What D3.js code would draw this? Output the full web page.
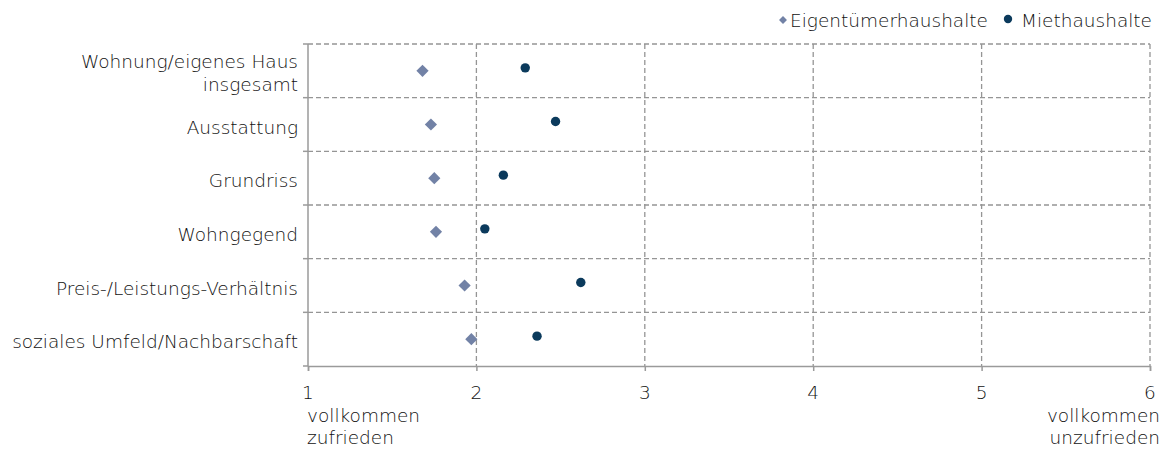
<!DOCTYPE html>
<html>
<head>
<meta charset="utf-8">
<script src="https://cdn.jsdelivr.net/npm/d3@7"></script>
<style>
  body { margin: 0; background: #fff; }
  text { font-family: "DejaVu Sans", sans-serif; fill: #111; font-size: 18.5px; font-weight: 200; }
  .grid line { stroke: #959595; stroke-width: 1.3; stroke-dasharray: 5,3; }
  .axis path, .axis line { stroke: #9a9a9a; stroke-width: 1.5; }
</style>
</head>
<body>
<div id="chart"></div>
<script>
var categories = [
  ["Wohnung/eigenes Haus", "insgesamt"],
  ["Ausstattung"],
  ["Grundriss"],
  ["Wohngegend"],
  ["Preis-/Leistungs-Verhältnis"],
  ["soziales Umfeld/Nachbarschaft"]
];
var eigentuemer = [1.68, 1.73, 1.75, 1.76, 1.93, 1.97];
var mieter = [2.29, 2.47, 2.16, 2.05, 2.62, 2.36];
var xTicks = [1, 2, 3, 4, 5, 6];
var seriesNames = ["Eigentümerhaushalte", "Miethaushalte"];

var W = 1166, H = 450;
var margin = {top: 44, right: 16, bottom: 84, left: 308};
var width = W - margin.left - margin.right,
    height = H - margin.top - margin.bottom;

var svg = d3.select("#chart").append("svg")
    .attr("width", W).attr("height", H)
  .append("g")
    .attr("transform", "translate(" + margin.left + "," + margin.top + ")");

var x = d3.scaleLinear().domain([1, 6]).range([0, width]);
var y = d3.scaleBand().domain(d3.range(categories.length)).range([0, height]);

// horizontal dashed row separators (incl. top)
svg.append("g").attr("class", "grid")
  .selectAll("line")
  .data(d3.range(categories.length))
  .enter().append("line")
  .attr("x1", 0).attr("x2", width)
  .attr("y1", function(d) { return y(d); })
  .attr("y2", function(d) { return y(d); });

// vertical dashed gridlines
svg.append("g").attr("class", "grid")
  .selectAll("line")
  .data(xTicks.slice(1))
  .enter().append("line")
  .attr("x1", function(d) { return x(d); })
  .attr("x2", function(d) { return x(d); })
  .attr("y1", 0).attr("y2", height);

// left axis with ticks at row boundaries
var leftAx = svg.append("g").attr("class", "axis");
leftAx.append("line").attr("x1", 0).attr("x2", 0).attr("y1", 0).attr("y2", height);
leftAx.selectAll(".tk")
  .data(d3.range(categories.length + 1))
  .enter().append("line").attr("class", "tk")
  .attr("x1", -5).attr("x2", 0)
  .attr("y1", function(d) { return d * y.step(); })
  .attr("y2", function(d) { return d * y.step(); });

// bottom axis
var bottomAx = svg.append("g").attr("class", "axis")
  .attr("transform", "translate(0," + height + ")")
  .call(d3.axisBottom(x).tickValues(xTicks).tickSize(5).tickSizeOuter(5).tickFormat(""));
bottomAx.selectAll(".tick text").remove();

svg.append("g").selectAll("text")
  .data(xTicks)
  .enter().append("text")
  .attr("x", function(d) { return x(d); })
  .attr("y", height + 33)
  .attr("text-anchor", "middle")
  .text(function(d) { return d; });

svg.append("text")
  .attr("y", height + 56)
  .selectAll("tspan").data(["vollkommen", "zufrieden"])
  .enter().append("tspan")
  .attr("x", x(1) - 1)
  .attr("dy", function(d, i) { return i ? 22 : 0; })
  .text(function(d) { return d; });

svg.append("text")
  .attr("y", height + 56)
  .attr("text-anchor", "end")
  .selectAll("tspan").data(["vollkommen", "unzufrieden"])
  .enter().append("tspan")
  .attr("x", x(6) + 10)
  .attr("dy", function(d, i) { return i ? 22 : 0; })
  .text(function(d) { return d; });

// category labels
svg.append("g").selectAll("text")
  .data(categories)
  .enter().append("text")
  .attr("text-anchor", "end")
  .attr("y", function(d, i) { return y(i) + y.bandwidth() / 2 + 9 - (d.length - 1) * 11.5; })
  .each(function(d) {
    d3.select(this).selectAll("tspan").data(d).enter().append("tspan")
      .attr("x", -10)
      .attr("dy", function(t, j) { return j ? 23 : 0; })
      .text(function(t) { return t; });
  });

var diamondColor = "#7282a6", circleColor = "#0b3a5c";
var diamond = d3.symbol().type(d3.symbolDiamond2).size(95);

svg.append("g").selectAll("path")
  .data(eigentuemer)
  .enter().append("path")
  .attr("d", diamond)
  .attr("transform", function(d, i) {
    return "translate(" + x(d) + "," + (y(i) + y.bandwidth() / 2) + ")";
  })
  .attr("fill", diamondColor);

svg.append("g").selectAll("circle")
  .data(mieter)
  .enter().append("circle")
  .attr("cx", function(d) { return x(d); })
  .attr("cy", function(d, i) { return y(i) + y.bandwidth() / 2 - 3; })
  .attr("r", 4.7)
  .attr("fill", circleColor);

// legend
var legend = d3.select("svg").append("g").attr("transform", "translate(0,20)");
legend.append("path")
  .attr("d", d3.symbol().type(d3.symbolDiamond2).size(40))
  .attr("transform", "translate(783,0)")
  .attr("fill", diamondColor);
legend.append("text").attr("x", 790).attr("y", 7)
  .text(seriesNames[0]);
legend.append("circle").attr("cx", 1008).attr("cy", -1).attr("r", 4.2).attr("fill", circleColor);
legend.append("text").attr("x", 1021).attr("y", 7)
  .text(seriesNames[1]);
</script>
</body>
</html>
